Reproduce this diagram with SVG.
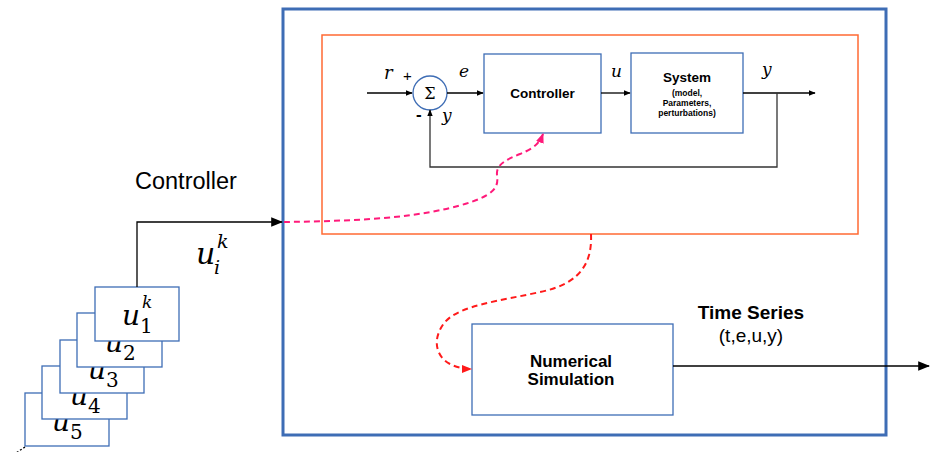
<svg xmlns="http://www.w3.org/2000/svg" width="930" height="452" viewBox="0 0 930 452">
  <style>
    .blk { fill: #fff; stroke: #3e6db5; stroke-width: 1.3; }
    .wire { fill: none; stroke: #000; stroke-width: 1.3; }
    .fb { fill: none; stroke: #333; stroke-width: 1.3; }
    .sans { font-family: "Liberation Sans", Arial, sans-serif; fill: #000; }
    .bold { font-family: "Liberation Sans", Arial, sans-serif; font-weight: bold; fill: #000; }
    .math { font-family: "DejaVu Serif", "Liberation Serif", serif; font-style: italic; fill: #000; }
    .num { font-family: "DejaVu Serif", "Liberation Serif", serif; fill: #000; }
  </style>
  <defs>
    <marker id="arr" viewBox="0 0 10 10" refX="9" refY="5" markerWidth="7" markerHeight="7" orient="auto" markerUnits="userSpaceOnUse">
      <path d="M0,1 L10,5 L0,9 Z" fill="#000"/>
    </marker>
    <marker id="arrBig" viewBox="0 0 10 10" refX="9" refY="5" markerWidth="12" markerHeight="12" orient="auto" markerUnits="userSpaceOnUse">
      <path d="M0,1 L10,5 L0,9 Z" fill="#000"/>
    </marker>
    <marker id="arrPink" viewBox="0 0 10 10" refX="9" refY="5" markerWidth="10" markerHeight="10" orient="auto" markerUnits="userSpaceOnUse">
      <path d="M0,1 L10,5 L0,9 Z" fill="#ff1a7a"/>
    </marker>
    <marker id="arrRed" viewBox="0 0 10 10" refX="9" refY="5" markerWidth="10" markerHeight="10" orient="auto" markerUnits="userSpaceOnUse">
      <path d="M0,1 L10,5 L0,9 Z" fill="#ff1a1a"/>
    </marker>
  </defs>

  <!-- Outer simulation frame -->
  <rect id="frame" x="283" y="9" width="603" height="426" fill="none" stroke="#3e6db5" stroke-width="3"/>
  <!-- Closed-loop region -->
  <rect id="loop" x="322" y="35" width="536" height="199" fill="none" stroke="#ff6a33" stroke-width="1.5"/>

  <!-- Stack of candidate controllers, drawn back to front so each card hides the top of the one behind -->
  <g id="stack">
    <g id="u5"><rect class="blk" x="25" y="393" width="84" height="53"/>
      <text class="math" x="52" y="431" font-size="28">u</text>
      <text class="num" x="70" y="439" font-size="20">5</text></g>
    <g id="u4"><rect class="blk" x="42" y="366" width="85" height="53"/>
      <text class="math" x="70" y="405" font-size="28">u</text>
      <text class="num" x="88" y="413" font-size="20">4</text></g>
    <g id="u3"><rect class="blk" x="60" y="340" width="84" height="53"/>
      <text class="math" x="88" y="379" font-size="28">u</text>
      <text class="num" x="106" y="387" font-size="20">3</text></g>
    <g id="u2"><rect class="blk" x="77" y="313" width="85" height="54"/>
      <text class="math" x="105" y="352" font-size="28">u</text>
      <text class="num" x="123" y="360" font-size="20">2</text></g>
    <g id="u1"><rect class="blk" x="95" y="287" width="84" height="54" stroke="#8aa6d4"/>
      <text class="math" x="122" y="325" font-size="28">u</text>
      <text class="num" x="140" y="333" font-size="20">1</text>
      <text class="math" x="142" y="308" font-size="17">k</text></g>
    <path d="M25,447 L16,453" stroke="#000" stroke-width="1.3" stroke-dasharray="2,2"/>
  </g>

  <!-- Labels outside the frame -->
  <text class="sans" x="135" y="189" font-size="23.5">Controller</text>
  <g id="uik">
    <text class="math" x="196" y="264" font-size="30">u</text>
    <text class="math" x="214" y="274" font-size="19">i</text>
    <text class="math" x="217" y="248" font-size="19">k</text>
  </g>

  <!-- Closed-loop blocks -->
  <g id="sum">
    <circle cx="430" cy="93" r="17" fill="#fff" stroke="#3e6db5" stroke-width="1.3"/>
    <text class="num" x="430" y="99" font-size="16" text-anchor="middle">Σ</text>
  </g>
  <g id="controller">
    <rect class="blk" x="484" y="54" width="117" height="79"/>
    <text class="bold" x="542.5" y="98" font-size="13.5" text-anchor="middle">Controller</text>
  </g>
  <g id="system">
    <rect class="blk" x="631" y="53" width="112" height="80"/>
    <text class="bold" x="687" y="82" font-size="13.5" text-anchor="middle">System</text>
    <text class="bold" x="687" y="96" font-size="8.5" text-anchor="middle">(model,</text>
    <text class="bold" x="687" y="106" font-size="8.5" text-anchor="middle">Parameters,</text>
    <text class="bold" x="687" y="116" font-size="8.5" text-anchor="middle">perturbations)</text>
  </g>
  <g id="numsim">
    <rect class="blk" x="472" y="324" width="201" height="91"/>
    <text class="bold" x="571" y="367" font-size="17" text-anchor="middle">Numerical</text>
    <text class="bold" x="571" y="385" font-size="17" text-anchor="middle">Simulation</text>
  </g>

  <!-- Signal labels -->
  <text class="math" x="384" y="79" font-size="18">r</text>
  <text class="sans" x="403" y="81" font-size="15">+</text>
  <text class="sans" x="416" y="120" font-size="17" font-weight="bold">-</text>
  <text class="math" x="442" y="121" font-size="17">y</text>
  <text class="math" x="459" y="77" font-size="17">e</text>
  <text class="math" x="611" y="77" font-size="17">u</text>
  <text class="math" x="762" y="75" font-size="17">y</text>
  <text class="bold" x="751" y="319" font-size="19" text-anchor="middle">Time Series</text>
  <text class="sans" x="751" y="342" font-size="19" text-anchor="middle">(t,e,u,y)</text>

  <!-- Connectors -->
  <g id="connectors">
    <path class="wire" d="M137,287 V222 H282" marker-end="url(#arrBig)"/>
    <path class="wire" d="M367,93 H412" marker-end="url(#arr)"/>
    <path class="wire" d="M447,93 H483" marker-end="url(#arr)"/>
    <path class="wire" d="M601,93 H630" marker-end="url(#arr)"/>
    <path class="wire" d="M743,93 H815" marker-end="url(#arr)"/>
    <path class="fb" d="M777,93 V167 H430 V110" marker-end="url(#arr)"/>
    <path class="wire" d="M673,366 H929" stroke-width="2" marker-end="url(#arrBig)"/>
    <!-- controller selection link -->
    <path d="M284,222 C340,221 400,220 450,208 C500,196 498,185 497,175 C496,165 505,160 520,154 C535,148 540,142 543,134" fill="none" stroke="#ff1a7a" stroke-width="2" stroke-dasharray="6,4" marker-end="url(#arrPink)"/>
    <!-- loop to simulation link -->
    <path d="M591,234 C592,258 585,283 540,292 C500,301 460,305 445,322 C432,338 435,356 450,364 C458,368 465,369 471,369" fill="none" stroke="#ff1a1a" stroke-width="2" stroke-dasharray="6,4" marker-end="url(#arrRed)"/>
  </g>
</svg>
